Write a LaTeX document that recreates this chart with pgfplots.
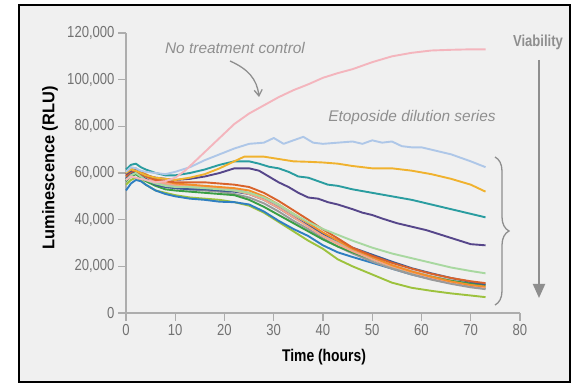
\documentclass[border=0pt]{standalone}
\usepackage{fontspec}
\setmainfont{Liberation Sans}[FakeStretch=0.82]
\newfontfamily\annot{Liberation Sans}
\usepackage{graphicx}
\usepackage{pgfplots}
\pgfplotsset{compat=1.18}
\usetikzlibrary{arrows.meta,decorations.pathreplacing}
\definecolor{bgc}{HTML}{F0F0F0}
\definecolor{axgray}{HTML}{ADADAD}
\definecolor{labgray}{HTML}{727272}
\definecolor{agray}{HTML}{8F8F8F}
\definecolor{vgray}{HTML}{8E8E8E}
\definecolor{cpink}{HTML}{F4B5BD}
\definecolor{clblue}{HTML}{AEC7E8}
\definecolor{cgold}{HTML}{F0B22E}
\definecolor{cteal}{HTML}{2A9DA0}
\definecolor{cpurple}{HTML}{56468A}
\definecolor{clgreen}{HTML}{A8D8A0}
\definecolor{cred}{HTML}{D9632B}
\definecolor{corange}{HTML}{F28E2B}
\definecolor{cdblue}{HTML}{3E5B94}
\definecolor{cgreen}{HTML}{3A9E44}
\definecolor{cgray}{HTML}{9A9A9A}
\definecolor{clgray}{HTML}{B8B8B8}
\definecolor{csalmon}{HTML}{F4A58A}
\definecolor{cblue}{HTML}{2F7FC1}
\definecolor{clime}{HTML}{9DC23D}
\begin{document}
\begin{tikzpicture}
\path[use as bounding box, fill=white] (0,0) rectangle (576bp,384bp);
\filldraw[fill=bgc, draw=black, line width=1.5bp] (19bp,2bp) rectangle (570bp,379bp);
\begin{axis}[
  at={(126bp,71bp)}, anchor=south west, scale only axis,
  width=394bp, height=280bp,
  xmin=0, xmax=80, ymin=0, ymax=120000,
  axis lines=left, axis line style={draw=axgray, line width=1.4bp, -},
  xtick={0,10,...,80}, ytick={0,20000,...,120000},
  tick align=outside, major tick length=8bp,
  tick style={draw=axgray, line width=1.4bp},
  scaled y ticks=false,
  xticklabel style={/pgf/number format/.cd, fixed},
  yticklabel style={/pgf/number format/.cd, fixed, precision=0, 1000 sep={,}},
  /pgf/number format/assume math mode=true,
  ticklabel style={font=\fontsize{16}{18}\selectfont, text=labgray},
  clip=false,
  every axis plot/.append style={line width=1.9bp, no markers, line join=round},
]
% bundle
\addplot[clime] coordinates {(0,55000)(1,57000)(2,58000)(3,57000)(4,55000)(6,52500)(8,51500)(10,50500)(13,49500)(16,49000)(19,48500)(22,47500)(25,46000)(28,43000)(31,39000)(34,35000)(37,31000)(40,27500)(43,23000)(46,20000)(50,16500)(54,13000)(58,10800)(62,9500)(66,8400)(70,7500)(73,6800)};
\addplot[cblue] coordinates {(0,52500)(1,55500)(2,57000)(3,56500)(4,55000)(6,52500)(8,51000)(10,50000)(13,49000)(16,48500)(19,47700)(22,47500)(25,46500)(28,43500)(31,39500)(34,36000)(37,33000)(40,29000)(43,26000)(46,24000)(50,21500)(54,19000)(58,16500)(62,14500)(66,12800)(70,11500)(73,10500)};
\addplot[cgray] coordinates {(0,57000)(1,59000)(2,60000)(3,58500)(4,57000)(6,55000)(8,54000)(10,53500)(13,53000)(16,52500)(19,52000)(22,51000)(25,49500)(28,47000)(31,43500)(34,39500)(37,36000)(40,32000)(43,28500)(46,25500)(50,22000)(54,19000)(58,16500)(62,14300)(66,12500)(70,11000)(73,10200)};
\addplot[clgray] coordinates {(0,58000)(1,60500)(2,61000)(3,59500)(4,58000)(6,56000)(8,55000)(10,54500)(13,54500)(16,54000)(19,53500)(22,53000)(25,51500)(28,49000)(31,45500)(34,41500)(37,37500)(40,33500)(43,30000)(46,27000)(50,23500)(54,20500)(58,18000)(62,15800)(66,14000)(70,12500)(73,11800)};
\addplot[cgreen] coordinates {(0,56500)(1,58500)(2,59500)(3,58000)(4,56500)(6,54500)(8,53000)(10,52500)(13,52000)(16,51500)(19,51000)(22,50500)(25,48500)(28,45500)(31,42000)(34,38500)(37,35000)(40,31500)(43,28500)(46,26000)(50,23000)(54,20000)(58,17500)(62,15500)(66,13800)(70,12600)(73,11900)};
\addplot[cdblue] coordinates {(0,57500)(1,60000)(2,60500)(3,59000)(4,57500)(6,55000)(8,54000)(10,53500)(13,53000)(16,53000)(19,52500)(22,52000)(25,51000)(28,48500)(31,45000)(34,41000)(37,37500)(40,34000)(43,31000)(46,28000)(50,25000)(54,22000)(58,19200)(62,17000)(66,15000)(70,13300)(73,12300)};
\addplot[csalmon] coordinates {(0,59000)(1,61000)(2,61500)(3,60000)(4,58500)(6,56500)(8,55500)(10,55000)(13,54500)(16,54000)(19,53500)(22,52500)(25,51000)(28,48500)(31,45000)(34,41000)(37,37000)(40,33000)(43,29500)(46,26500)(50,23000)(54,20000)(58,17500)(62,15200)(66,13300)(70,11900)(73,11000)};
\addplot[corange] coordinates {(0,59500)(1,61500)(2,62000)(3,60500)(4,59500)(6,57500)(8,56500)(10,55500)(13,55000)(16,54500)(19,54000)(22,53500)(25,52500)(28,50000)(31,46500)(34,42500)(37,38500)(40,34500)(43,31000)(46,27500)(50,24000)(54,20500)(58,17800)(62,15500)(66,13500)(70,12000)(73,11300)};
\addplot[cred] coordinates {(0,58500)(1,60500)(2,61000)(3,59500)(4,58500)(6,57000)(8,56500)(10,56000)(13,56000)(16,56000)(19,55500)(22,55000)(25,54000)(28,51500)(31,48000)(34,44000)(37,40000)(40,35800)(43,32000)(46,28000)(50,24500)(54,21500)(58,19000)(62,16800)(66,15000)(70,13600)(73,12800)};
\addplot[clgreen] coordinates {(0,57000)(1,59000)(2,60000)(3,58500)(4,57000)(6,55500)(8,54500)(10,54000)(13,54000)(16,53500)(19,53000)(22,52500)(25,51500)(28,49500)(31,46500)(34,42500)(37,39000)(40,36000)(43,33500)(46,31000)(50,28000)(54,25500)(58,23500)(62,21500)(66,19500)(70,18000)(73,17000)};
% upper series
\addplot[cpurple] coordinates {(0,59500)(1,61000)(2,61500)(3,60000)(4,59000)(6,58000)(8,57500)(10,57000)(13,57500)(16,58500)(19,60000)(22,62000)(25,62000)(27,61000)(29,58500)(31,56000)(33,54000)(35,51500)(37,49500)(39,49000)(41,47500)(43,46500)(46,44500)(48,43000)(50,42000)(52,40500)(55,38500)(58,37000)(61,35500)(64,33500)(67,31500)(70,29500)(73,29000)};
\addplot[cteal] coordinates {(0,61500)(1,63500)(2,64000)(3,62500)(4,61500)(6,60000)(8,59000)(10,59000)(13,60000)(16,61500)(19,63500)(22,65000)(25,65000)(27,64000)(29,62700)(31,62000)(33,60500)(35,58500)(37,58000)(39,56500)(41,55000)(43,54500)(46,53000)(50,51500)(54,50000)(58,48500)(62,46500)(66,44500)(70,42500)(73,41000)};
\addplot[cgold] coordinates {(0,60000)(1,61500)(2,61000)(3,60000)(4,59000)(6,58000)(8,57500)(10,57000)(13,58000)(16,59500)(19,62000)(22,65000)(24,67000)(28,67000)(31,66000)(34,65000)(37,64800)(40,64500)(43,64000)(46,63000)(50,62000)(54,62000)(58,61000)(62,59500)(66,57500)(70,55000)(73,52000)};
\addplot[clblue] coordinates {(0,60500)(1,62500)(2,62000)(3,61000)(4,60500)(6,60000)(8,59500)(10,60500)(13,62500)(16,65500)(19,68000)(22,70500)(25,72500)(28,73000)(30,75000)(32,72500)(34,74000)(36,75500)(38,73000)(40,72500)(43,73000)(46,73500)(48,72500)(50,74000)(52,73000)(54,73500)(56,71500)(58,71000)(60,71000)(63,69500)(66,68000)(70,65000)(73,62500)};
\addplot[cpink] coordinates {(0,57000)(1,58500)(2,58000)(3,57500)(4,57000)(6,56000)(8,56500)(10,58000)(12,61000)(14,65000)(16,69000)(19,75000)(22,81000)(25,85500)(28,89000)(31,92500)(34,95500)(37,98000)(40,100800)(43,102800)(46,104500)(50,107500)(54,110000)(58,111500)(62,112500)(66,112800)(70,113000)(73,113000)};
\end{axis}
\node[font=\bfseries\fontsize{17}{20}\selectfont, rotate=90] at (50bp,216bp) {\scalebox{1.18}[1]{Luminescence (RLU)}};
\node[font=\bfseries\fontsize{17}{20}\selectfont] at (324bp,27bp) {Time (hours)};
\node[font=\bfseries\fontsize{16}{18}\selectfont, text=vgray] at (538bp,342bp) {Viability};
\draw[vgray, line width=2bp, -{Triangle[length=14bp,width=12bp]}] (539bp,324bp) -- (539bp,86bp);
\draw[vgray, line width=1.3bp, decorate, decoration={brace, amplitude=14bp}] (495bp,227bp) -- (495bp,79bp);
\node[font=\annot\itshape\fontsize{15.5}{18}\selectfont, text=agray] at (235bp,336.5bp) {No treatment control};
\node[font=\annot\itshape\fontsize{15.5}{18}\selectfont, text=agray] at (412bp,266bp) {Etoposide dilution series};
\draw[agray, line width=1.3bp, -{Straight Barb[length=6bp,width=8bp]}] (230bp,323bp) .. controls (248bp,315bp) and (257bp,305bp) .. (259bp,287bp);
\end{tikzpicture}
\end{document}
